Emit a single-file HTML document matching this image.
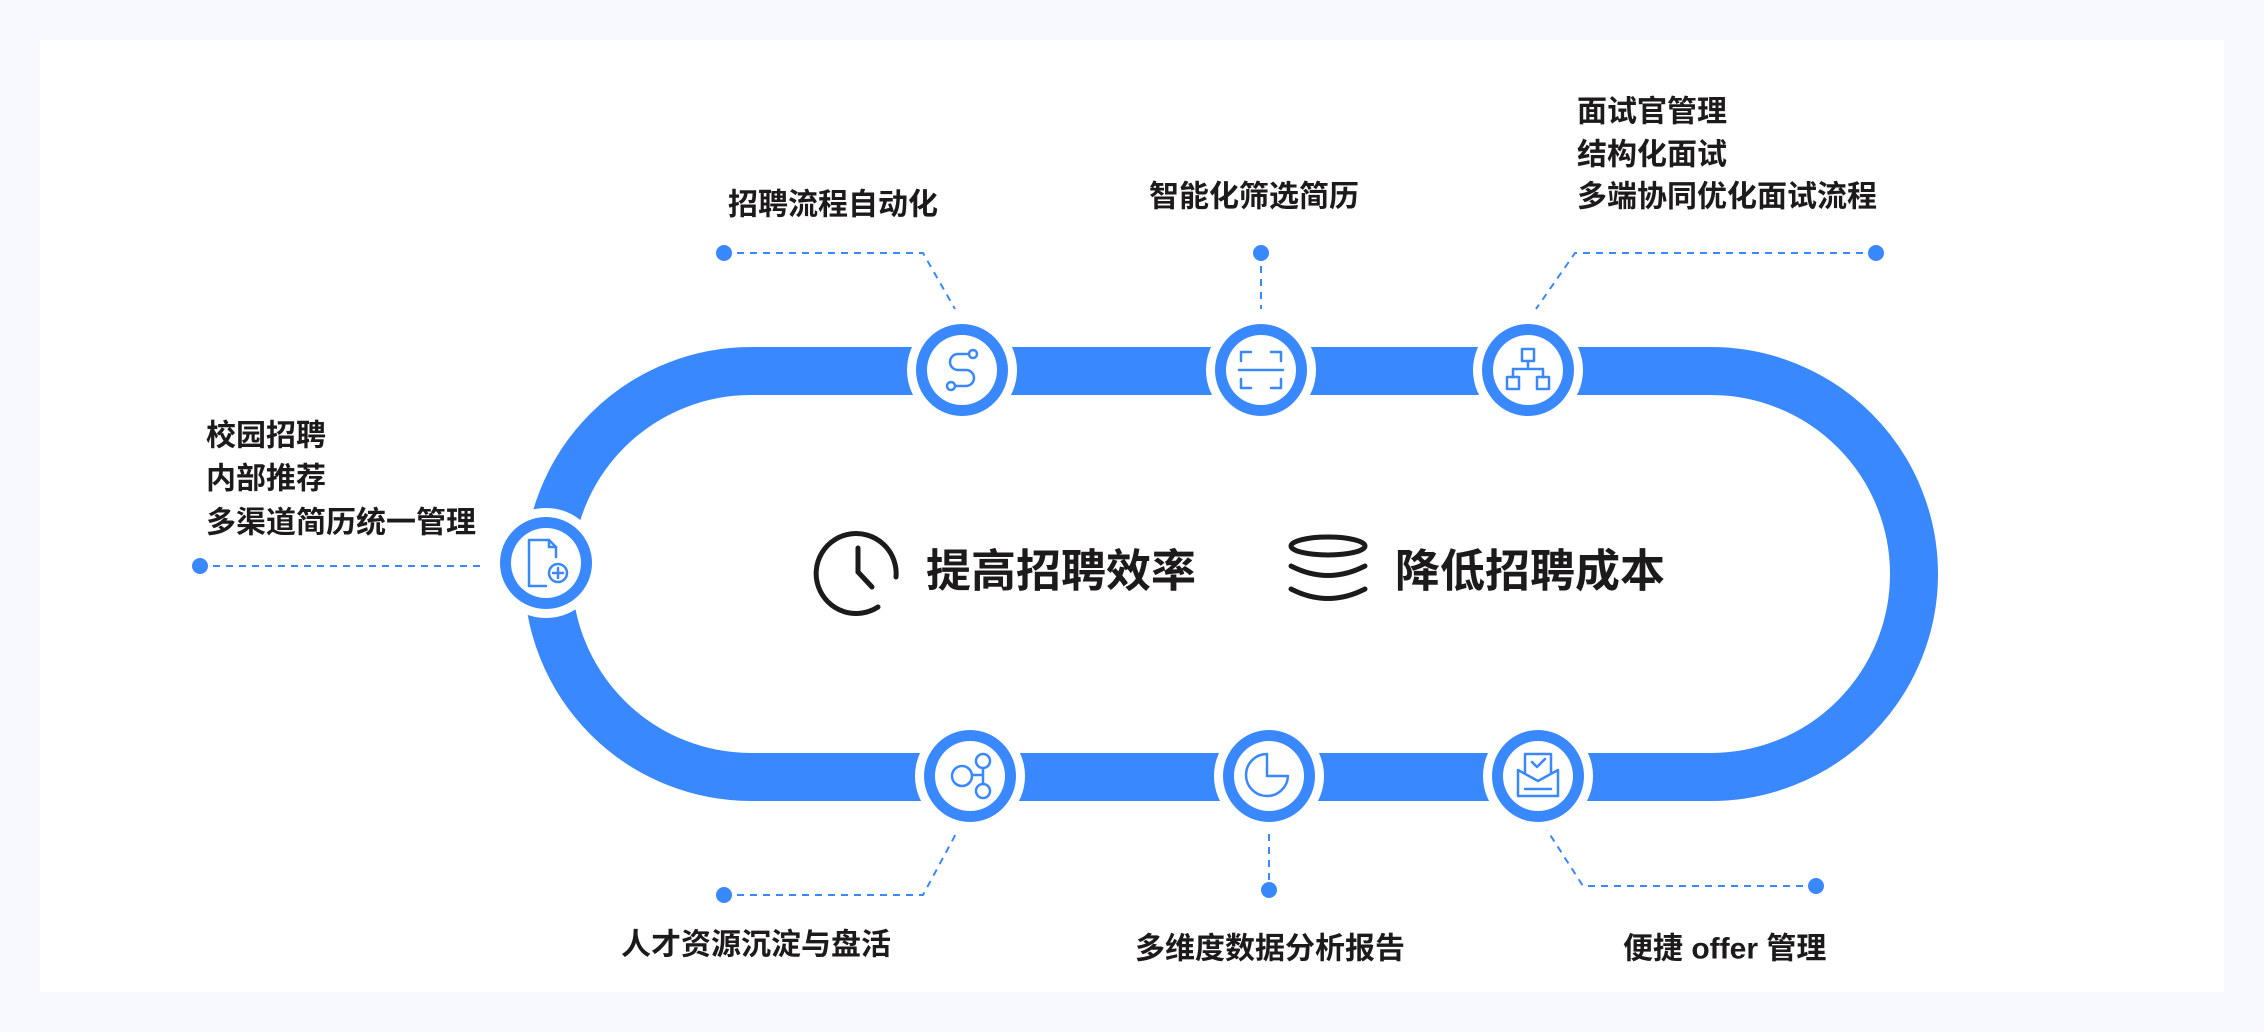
<!DOCTYPE html>
<html><head><meta charset="utf-8"><style>
html,body{margin:0;padding:0;background:#f7f9fe;}
svg{display:block}
text{font-family:"Liberation Sans","Noto Sans CJK SC",sans-serif;fill:#1c1a1a;font-weight:bold;dominant-baseline:central}
.l{font-size:30px}
.c{font-size:45px}
</style></head><body>
<svg width="2264" height="1032" viewBox="0 0 2264 1032" xmlns="http://www.w3.org/2000/svg">
<rect x="0" y="0" width="2264" height="1032" fill="#f7f9fe"/>
<rect x="40" y="40" width="2184" height="952" fill="#fff"/>
<path d="M751 371 H1711 A203 203 0 0 1 1711 777 H751 A203 203 0 0 1 751 371 Z" fill="none" stroke="#3a88fe" stroke-width="48"/>
<g stroke="#3a88fe" stroke-width="2" stroke-dasharray="7 6" fill="none">
<polyline points="724,253 923,253 955,309"/>
<line x1="200" y1="566" x2="485" y2="566"/>
<polyline points="724,895 923,895 958,830"/>
<line x1="1261" y1="253" x2="1261" y2="309"/>
<polyline points="1876,253 1575,253 1536,309"/>
<line x1="1269" y1="834" x2="1269" y2="890"/>
<polyline points="1816,886 1583,886 1547,830"/>
</g>
<g fill="#3a88fe">
<circle cx="724" cy="253" r="8"/><circle cx="200" cy="566" r="8"/><circle cx="724" cy="895" r="8"/>
<circle cx="1261" cy="253" r="8"/><circle cx="1876" cy="253" r="8"/><circle cx="1269" cy="890" r="8"/><circle cx="1816" cy="886" r="8"/>
</g>
<g>
<g transform="translate(546,563)"><circle r="55" fill="#fff"/><circle r="46" fill="#3a88fe"/><circle r="35" fill="#fff"/></g>
<g transform="translate(962,370)"><circle r="55" fill="#fff"/><circle r="46" fill="#3a88fe"/><circle r="35" fill="#fff"/></g>
<g transform="translate(1261,370)"><circle r="55" fill="#fff"/><circle r="46" fill="#3a88fe"/><circle r="35" fill="#fff"/></g>
<g transform="translate(1528,370)"><circle r="55" fill="#fff"/><circle r="46" fill="#3a88fe"/><circle r="35" fill="#fff"/></g>
<g transform="translate(970,776)"><circle r="55" fill="#fff"/><circle r="46" fill="#3a88fe"/><circle r="35" fill="#fff"/></g>
<g transform="translate(1269,776)"><circle r="55" fill="#fff"/><circle r="46" fill="#3a88fe"/><circle r="35" fill="#fff"/></g>
<g transform="translate(1538,776)"><circle r="55" fill="#fff"/><circle r="46" fill="#3a88fe"/><circle r="35" fill="#fff"/></g>
</g>
<g stroke="#3a88fe" stroke-width="2.5" fill="none" stroke-linecap="round" stroke-linejoin="round">
<g transform="translate(546,563)"><path d="M-17 -23 H3 L10 -16 V-6 M-17 -23 V23 H0"/><path d="M3 -23 V-16 H10"/><circle cx="12" cy="10" r="9"/><path d="M12 5 V15 M7 10 H17"/></g>
<g transform="translate(962,370)"><circle cx="11" cy="-16" r="4"/><circle cx="-11" cy="16" r="4"/><path d="M7 -16 H-4 A8 8 0 0 0 -4 0 H4 A8 8 0 0 1 4 16 H-7"/></g>
<g transform="translate(1261,370)"><path d="M-20 -9 V-18 H-10 M10 -18 H20 V-9 M-20 9 V18 H-10 M10 18 H20 V9 M-22 0 H22"/></g>
<g transform="translate(1528,370)"><rect x="-6" y="-21" width="12" height="12"/><rect x="-21" y="7" width="12" height="12"/><rect x="9" y="7" width="12" height="12"/><path d="M0 -9 V-1 M-15 7 V-1 H15 V7"/></g>
<g transform="translate(970,776)"><circle cx="-8" cy="0" r="10"/><circle cx="13" cy="-15" r="7"/><circle cx="13" cy="15" r="7"/><path d="M2 -1 H13 M13 -8 V8"/></g>
<g transform="translate(1269,776)"><path d="M-2 -22 A21 21 0 1 0 19 0 H-2 Z"/></g>
<g transform="translate(1538,776)"><path d="M-13 -4 V-22 H13 V-4"/><path d="M-6 -14 L-1 -9 L7 -17"/><path d="M-20 -6 V20 H20 V-6 L0 5 Z"/><path d="M-13 13 H13"/></g>
</g>
<g stroke="#1c1a1a" stroke-width="5" fill="none" stroke-linecap="round">
<path d="M878 607 A40 40 0 1 1 896 577"/><path d="M858 548 V572 L872 587"/>
<ellipse cx="1328" cy="546" rx="37" ry="9"/>
<path d="M1291 566 Q1328 585 1365 566"/>
<path d="M1291 589 Q1328 608 1365 589"/>
</g>
<text class="c" x="926" y="571">提高招聘效率</text>
<text class="c" x="1395" y="571">降低招聘成本</text>
<text class="l" x="728" y="205">招聘流程自动化</text>
<text class="l" x="1149" y="197">智能化筛选简历</text>
<text class="l" x="1577" y="112">面试官管理</text>
<text class="l" x="1577" y="155">结构化面试</text>
<text class="l" x="1577" y="197">多端协同优化面试流程</text>
<text class="l" x="206" y="436">校园招聘</text>
<text class="l" x="206" y="479">内部推荐</text>
<text class="l" x="206" y="523">多渠道简历统一管理</text>
<text class="l" x="621" y="945">人才资源沉淀与盘活</text>
<text class="l" x="1135" y="949">多维度数据分析报告</text>
<text class="l" x="1623" y="949">便捷 offer 管理</text>
</svg>
</body></html>
